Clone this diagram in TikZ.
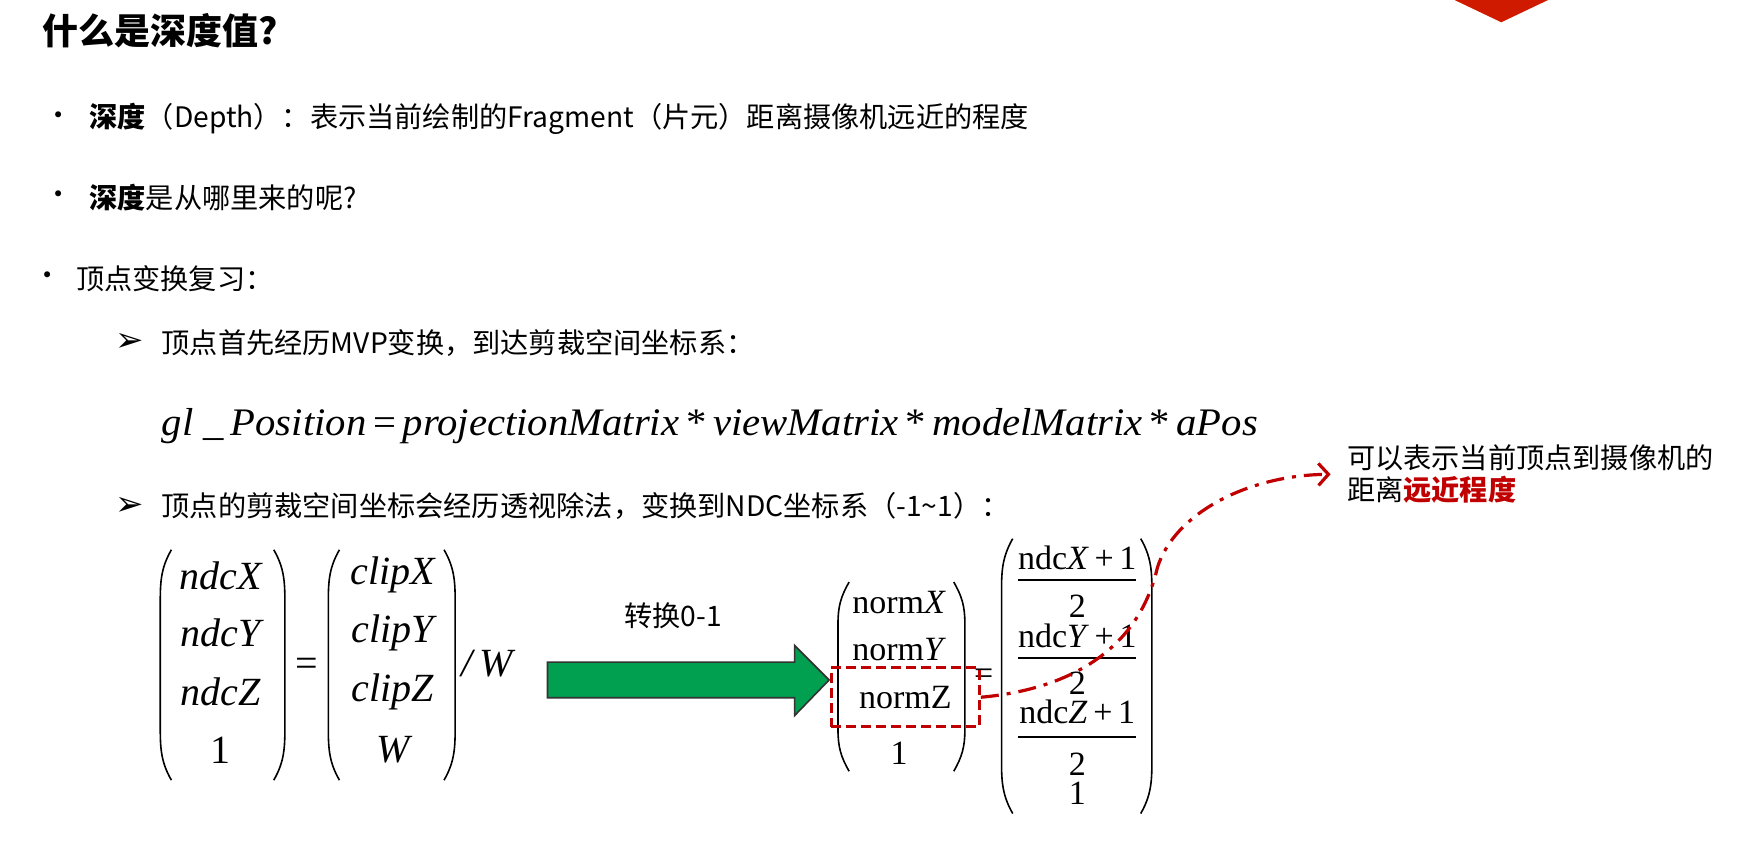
\documentclass[tikz,border=0pt]{standalone}
\usepackage{fontspec}
\setmainfont{Noto Sans CJK SC}
\newfontfamily\tnr{Liberation Serif}
\newfontfamily\sym{DejaVu Sans}
\usetikzlibrary{arrows.meta}
\definecolor{darkred}{HTML}{C00000}
\definecolor{markred}{HTML}{D01A00}
\definecolor{convgreen}{HTML}{00A050}

\begin{document}
\begin{tikzpicture}[x=0.5564pt,y=-0.5564pt,
  txt/.style={anchor=west,inner sep=0pt,font=\fontsize{14.1}{17}\selectfont},
  ent/.style={inner sep=0pt,font=\tnr\fontsize{20}{24}\selectfont\itshape},
  nrm/.style={inner sep=0pt,font=\tnr\fontsize{17}{20}\selectfont},
  par/.style={line width=0.8pt}]

\useasboundingbox (0,0) rectangle (1568,756.6);

% marker at the top
\fill [markred] (1307,0) -- (1391,0) -- (1349,20) -- cycle;

\node [anchor=west,inner sep=0pt,font=\fontsize{18}{22}\selectfont\bfseries] (title) at (38,28) {什么是深度值?};

\node [txt] (dot1) at (40,107) {•};
\node [txt] (line1) at (80,107) {\textbf{深度}（Depth）：表示当前绘制的Fragment（片元）距离摄像机远近的程度};
\node [txt] (dot2) at (40,178) {•};
\node [txt] (line2) at (80,178) {\textbf{深度}是从哪里来的呢?};
\node [txt] (dot3) at (30,250) {•};
\node [txt] (line3) at (68,250) {顶点变换复习：};

\node [txt,font=\sym\fontsize{17}{19}\selectfont] (tri1) at (103,308) {➢};
\node [txt] (sub1) at (145,308) {顶点首先经历MVP变换，到达剪裁空间坐标系：};
\node [anchor=base west,inner sep=0pt,font=\tnr\fontsize{19.5}{24}\selectfont\itshape] (mvp) at (145,391)
  {\resizebox{548pt}{\height}{gl\ \_\,Position\,{\upshape=}\,projectionMatrix\,{\upshape*}\,viewMatrix\,{\upshape*}\,modelMatrix\,{\upshape*}\,aPos}};
\node [txt,font=\sym\fontsize{17}{19}\selectfont] (tri2) at (103,455) {➢};
\node [txt] (sub2) at (145,455) {顶点的剪裁空间坐标会经历透视除法，变换到NDC坐标系（-1\textasciitilde1）：};

% ndc = clip / W
\node [ent] (m1a) at (198,517) {ndcX};
\node [ent] (m1b) at (198,569) {ndcY};
\node [ent] (m1c) at (198,622) {ndcZ};
\node [ent,font=\tnr\fontsize{20}{24}\selectfont] (m1d) at (198,674) {1};
\draw [par] (154,494) to[out=240,in=90] (144,545) -- (144,650) to[out=-90,in=120] (154,701);
\draw [par] (246,494) to[out=-60,in=90] (256,545) -- (256,650) to[out=-90,in=60] (246,701);
\node [ent,font=\tnr\fontsize{20}{24}\selectfont] (eq1) at (276,600) {=};
\node [ent] (m2a) at (353,517) {clipX};
\node [ent] (m2b) at (353,569) {clipY};
\node [ent] (m2c) at (353,622) {clipZ};
\node [ent] (m2d) at (353,674) {W};
\draw [par] (305,494) to[out=240,in=90] (295,545) -- (295,650) to[out=-90,in=120] (305,701);
\draw [par] (399,494) to[out=-60,in=90] (409,545) -- (409,650) to[out=-90,in=60] (399,701);
\node [ent] (divw) at (438,596) {/\,W};

% conversion arrow
\filldraw [fill=convgreen,draw=black!80,line width=0.8pt] (492,595) -- (714,595) -- (714,580) -- (745,611) -- (714,643) -- (714,627) -- (492,627) -- cycle;
\node [txt,anchor=center] (conv) at (605,553) {转换0-1};

% norm
\node [nrm] (m3a) at (808,541) {norm\textit{X}};
\node [nrm] (m3b) at (808,584) {norm\textit{Y}};
\node [nrm] (m3d) at (808,677) {1};
\draw [par] (763,523) to[out=240,in=90] (753,560) -- (753,656) to[out=-90,in=120] (763,693);
\draw [par] (857,523) to[out=-60,in=90] (867,560) -- (867,656) to[out=-90,in=60] (857,693);
\node [nrm] (eq2) at (884,608) {=};
\node [nrm,draw=darkred,line width=1.5pt,dash pattern=on 5pt off 2.5pt,minimum width=74pt,minimum height=29.5pt] (m3c) at (813.5,626.5) {normZ};

% (ndc + 1) / 2
\node [nrm] (n4a) at (968,501) {ndc\textit{X}\,+\,1};
\node [nrm] (d4a) at (968,545) {2};
\node [nrm] (n4b) at (968,571) {ndc\textit{Y}\,+\,1};
\node [nrm] (d4b) at (968,614) {2};
\node [nrm] (n4c) at (968,640) {ndc\textit{Z}\,+\,1};
\node [nrm] (d4c) at (968,687) {2};
\node [nrm] (m4d) at (968,713) {1};
\draw [line width=1pt] (915,521) -- (1021,521);
\draw [line width=1pt] (915,591) -- (1021,591);
\draw [line width=1pt] (915,662) -- (1021,662);
\draw [par] (910,484) to[out=240,in=90] (900,540) -- (900,675) to[out=-90,in=120] (910,731);
\draw [par] (1025,484) to[out=-60,in=90] (1035,540) -- (1035,675) to[out=-90,in=60] (1025,731);

% note
\node [txt,align=left,font=\fontsize{14.1}{16.2}\selectfont] (note) at (1210,426)
  {可以表示当前顶点到摄像机的\\距离{\bfseries\color{darkred}远近程度}};
\draw [darkred,line width=1.6pt,dash pattern=on 9pt off 4pt on 2pt off 4pt,
  -{Straight Barb[length=5pt,width=11pt]},shorten >=8pt]
  (m3c.east) .. controls (955,620) and (1022,588) .. (1040,510)
  .. controls (1055,462) and (1120,427) .. (note.west);
\end{tikzpicture}
\end{document}
